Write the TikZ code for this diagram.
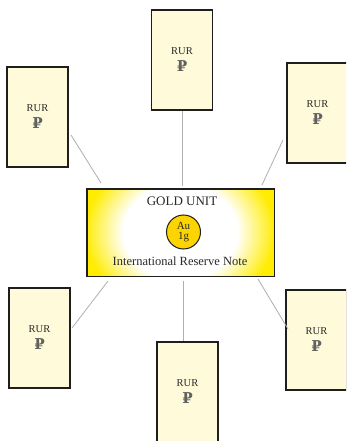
\documentclass[tikz,border=0pt]{standalone}
\usepackage{fontspec}
\setmainfont{Liberation Serif}
\newfontfamily\rubfont{DejaVu Serif}
\definecolor{notefill}{RGB}{255,251,218}
\definecolor{noteline}{RGB}{30,30,30}
\definecolor{linkgray}{RGB}{175,175,175}
\definecolor{goldyel}{RGB}{255,236,0}
\definecolor{coinyel}{RGB}{252,212,0}
\definecolor{txt}{RGB}{40,40,40}
\tikzset{
  note/.style={draw=noteline, line width=1.4pt, fill=notefill, minimum width=61pt, minimum height=100pt, inner sep=0pt, text=txt, align=center},
  link/.style={draw=linkgray, line width=0.8pt},
}
\newcommand{\notetext}{{\fontsize{10.5}{12}\selectfont RUR}\\[5pt]{\rubfont\bfseries\fontsize{15}{16}\selectfont \textcolor{black!62}{₽}}}
\begin{document}
\begin{tikzpicture}[x=1pt,y=-1pt]
\useasboundingbox (0,0) rectangle (346,441);
\begin{scope}
\clip (0,0) rectangle (346,441);
% notes
\node[note] (top) at (182,60) {\notetext};
\node[note] (lt) at (37.5,117) {\notetext};
\node[note] (rt) at (317.5,113) {\notetext};
\node[note] (lb) at (39.5,338) {\notetext};
\node[note] (bot) at (187.5,392) {\notetext};
\node[note] (rb) at (316.5,340) {\notetext};
% center
\node[minimum width=187pt, minimum height=87pt, inner sep=0pt] (gold) at (180.5,232.5) {};
\begin{scope}
\clip (gold.north west) rectangle (gold.south east);
\fill[goldyel] (gold.north west) rectangle (gold.south east);
\foreach \k [evaluate=\k as \ss using 1-\k*0.01, evaluate=\k as \pp using 100-2.5*\k] in {0,...,40}
  \fill[goldyel!\pp!white] (gold.center) ellipse [x radius=96*\ss, y radius=80*\ss];
\end{scope}
\draw[noteline, line width=1.4pt] (gold.north west) rectangle (gold.south east);
\node[text=txt, font=\fontsize{13}{14}\selectfont] (gu) at (182,201) {GOLD UNIT};
\node[circle, draw=noteline, line width=1pt, fill=coinyel, minimum size=34pt, inner sep=0pt, align=center, text=txt, font=\fontsize{11}{10.5}\selectfont] (coin) at (183.5,232) {Au\\1g};
\node[text=txt, font=\fontsize{12.5}{14}\selectfont] (irn) at (180,261) {International Reserve Note};
% links
\coordinate (a1) at (182,186);
\coordinate (a2) at (101,183);
\coordinate (a3) at (71,135);
\coordinate (a4) at (262,185);
\coordinate (a5) at (283,140);
\coordinate (a6) at (108,281);
\coordinate (a7) at (72,328);
\coordinate (a8) at (258,279);
\coordinate (a9) at (288,329);
\coordinate (a10) at (183,281);
\draw[link] (top.south) -- (a1);
\draw[link] (a3) -- (a2);
\draw[link] (a5) -- (a4);
\draw[link] (a7) -- (a6);
\draw[link] (a9) -- (a8);
\draw[link] (a10) -- (a10 |- bot.north);
\end{scope}
\end{tikzpicture}
\end{document}
